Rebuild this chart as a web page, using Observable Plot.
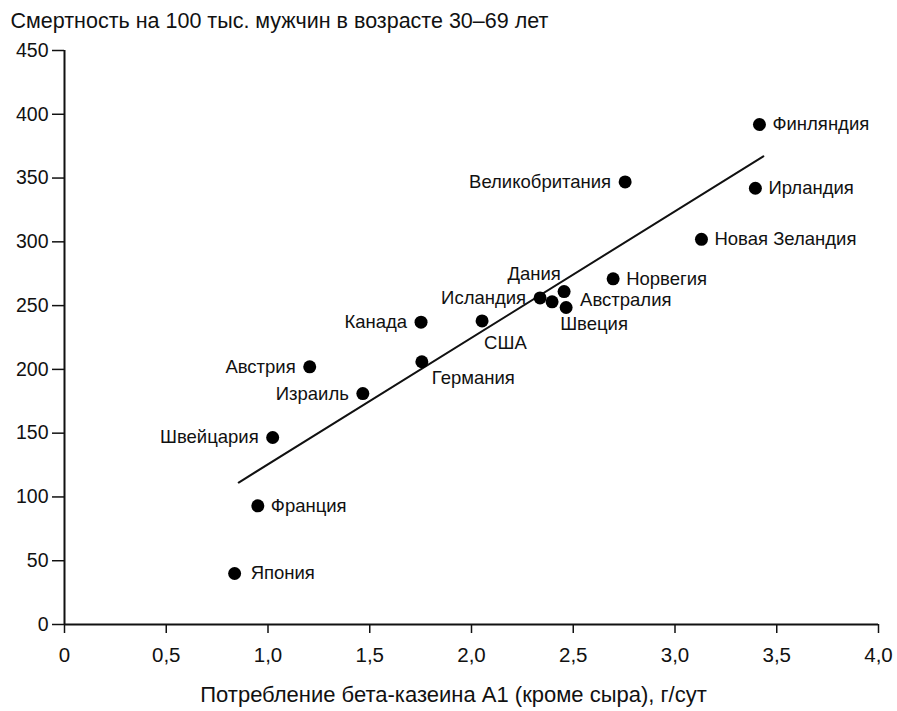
<!DOCTYPE html>
<html><head><meta charset="utf-8">
<script src="https://cdn.jsdelivr.net/npm/d3@7"></script>
<script src="https://cdn.jsdelivr.net/npm/@observablehq/plot@0.6"></script>
<style>
html,body{margin:0;padding:0;background:#fff;}
svg{font-family:"Liberation Sans",Arial,sans-serif;}
</style>
</head><body>
<div id="chart"></div>
<script>
const countries = ["Финляндия","Великобритания","Ирландия","Новая Зеландия","Норвегия","Исландия","Дания","Австралия","Швеция","США","Канада","Германия","Австрия","Израиль","Швейцария","Франция","Япония"];
const a1Intake = [3.415,2.755,3.395,3.13,2.696,2.337,2.396,2.455,2.465,2.052,1.752,1.756,1.205,1.466,1.023,0.95,0.836];
const mortality = [392,347,342,302,271,256,253,261,248.5,238,237,206,202,181,146.6,93,40];
const labelPlacement = ["right","left","right","right","right","left","above","right2","below","below","left","belowright","left","left","left","right","right2"];
const trendX = [0.856,3.434];
const trendY = [111.3,367];
const xTicks = [0,0.5,1,1.5,2,2.5,3,3.5,4];
const yTicks = [0,50,100,150,200,250,300,350,400,450];
const title = "Смертность на 100 тыс. мужчин в возрасте 30–69 лет";
const xLabel = "Потребление бета-казеина А1 (кроме сыра), г/сут";

const data = countries.map((c,i)=>({country:c, x:a1Intake[i], y:mortality[i], place:labelPlacement[i]}));
const trend = trendX.map((x,i)=>({x, y:trendY[i]}));

const placeOpts = {
  right:{dx:13, dy:0, textAnchor:"start"},
  right2:{dx:16, dy:0, textAnchor:"start"},
  left:{dx:-14, dy:0, textAnchor:"end"},
  above:{dx:-18, dy:-28, textAnchor:"middle"},
  below:{dx:-6, dy:17, textAnchor:"start"},
  belowright:{dx:10, dy:16, textAnchor:"start"}
};
const fixDy = {"Австралия":8, "США":22};

const labelMarks = data.map(d => {
  const o = Object.assign({}, placeOpts[d.place]);
  if (d.country in fixDy) o.dy = fixDy[d.country];
  if (d.country === "США") o.dx = 2;
  return Plot.text([d], {x:"x", y:"y", text:"country", fontSize:18.5, fill:"#111", ...o});
});

const fmt = v => v === 0 ? "0" : v.toFixed(1).replace(".", ",");

const plot = Plot.plot({
  width: 897,
  height: 711,
  marginLeft: 64,
  marginRight: 19,
  marginTop: 50,
  marginBottom: 87,
  style:{fontFamily:"'Liberation Sans', Arial, sans-serif", background:"#fff", color:"#111"},
  x:{domain:[0,4], ticks:xTicks},
  y:{domain:[0,450], ticks:yTicks},
  marks:[
    Plot.axisX({ticks:xTicks, tickFormat:fmt, tickSize:9, tickPadding:14, fontSize:20.5, label:null, strokeWidth:1.5}),
    Plot.axisY({ticks:yTicks, tickSize:12, tickPadding:4, fontSize:19.5, label:null, strokeWidth:1.5}),
    Plot.ruleX([0], {stroke:"#111", strokeWidth:2}),
    Plot.ruleY([0], {stroke:"#111", strokeWidth:2}),
    Plot.line(trend, {x:"x", y:"y", stroke:"#111", strokeWidth:2}),
    Plot.dot(data, {x:"x", y:"y", r:6.5, fill:"#000", stroke:"none"}),
    ...labelMarks,
    Plot.text([title], {frameAnchor:"top-left", dx:-54, dy:-29, lineAnchor:"middle", fontSize:21.5, textAnchor:"start", fill:"#111"}),
    Plot.text([xLabel], {frameAnchor:"bottom", dx:-18, dy:70, lineAnchor:"middle", fontSize:22, fill:"#111"})
  ]
});
document.getElementById("chart").appendChild(plot);
</script>
</body></html>
